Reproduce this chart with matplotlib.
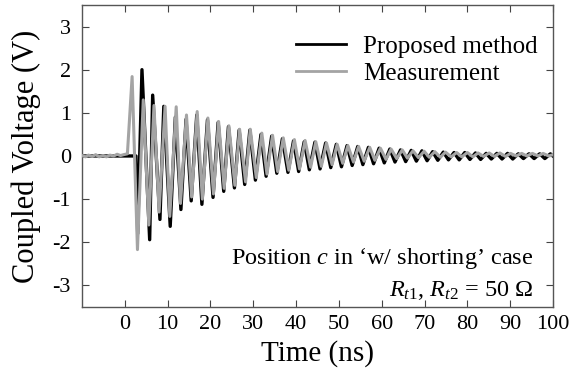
import matplotlib
matplotlib.use("Agg")
import matplotlib.pyplot as plt

# Lecturas de la figura: extremos de cada oscilacion (tiempo en ns, tension en V)
black_t = [-10, 2.6, 3.0, 4.0, 5.8, 6.5, 8.2, 9.1, 10.6, 11.8, 13.1, 14.3, 15.5, 16.8,
           18.0, 19.3, 20.6, 21.8, 23.1, 24.2, 25.6, 26.7, 28.0, 29.2, 30.5, 31.8,
           33.0, 34.3, 35.5, 36.8, 38.1, 39.4, 40.6, 41.9, 43.1, 44.4, 45.6, 46.9,
           48.1, 49.4, 50.6, 51.9, 53.1, 54.4, 55.6, 56.9, 58.1, 59.4, 60.6, 61.9,
           63.1, 64.4, 65.6, 66.9, 68.1, 69.4, 70.6, 71.9, 73.1, 74.4, 75.6, 76.9,
           78.1, 79.4, 80.6, 81.9, 83.1, 84.4, 85.6, 86.9, 88.1, 89.4, 90.6, 91.9,
           93.1, 94.4, 95.6, 96.9, 98.1, 99.4, 100]
black_v = [0, 0, -1.8, 2.0, -1.94, 1.41, -1.47, 1.15, -1.63, 0.9, -1.24, 0.85, -1.04, 0.95,
           -1.12, 0.84, -0.96, 0.78, -0.82, 0.68, -0.74, 0.6, -0.66, 0.6, -0.56, 0.5,
           -0.47, 0.46, -0.40, 0.40, -0.38, 0.35, -0.36, 0.33, -0.32, 0.32, -0.30, 0.30,
           -0.27, 0.27, -0.25, 0.24, -0.22, 0.22, -0.20, 0.20, -0.18, 0.18, -0.16, 0.16,
           -0.14, 0.14, -0.13, 0.13, -0.12, 0.12, -0.11, 0.10, -0.10, 0.09, -0.09, 0.08,
           -0.09, 0.08, -0.08, 0.07, -0.08, 0.06, -0.07, 0.06, -0.07, 0.06, -0.07, 0.05,
           -0.06, 0.05, -0.06, 0.05, -0.06, 0.05, 0]

gray_t = [-10, -9.2, -8.5, -7.6, -6.8, -6.0, -5.1, -4.3, -3.5, -2.6, -1.8, -1.0, -0.3,
          0.6, 1.7, 2.95, 4.3, 5.6, 6.8, 8.0, 9.4, 10.5, 12.0, 13.0, 14.4, 15.6, 16.9,
          18.1, 19.4, 20.7, 21.9, 23.2, 24.3, 25.7, 26.8, 28.2, 29.3, 30.7, 32.0, 33.2,
          34.5, 35.7, 37.0, 38.3, 39.6, 40.8, 42.1, 43.4, 44.6, 45.9, 47.1, 48.4, 49.6,
          50.9, 52.1, 53.4, 54.6, 55.9, 57.2, 58.4, 59.7, 61.0, 62.2, 63.5, 64.8, 66.0,
          67.3, 68.6, 69.9, 71.1, 72.4, 73.7, 74.9, 76.2, 77.5, 78.7, 80.0, 81.3, 82.5,
          83.8, 85.1, 86.3, 87.6, 88.9, 90.1, 91.4, 92.7, 93.9, 95.2, 96.5, 97.7, 99.0, 100]
gray_v = [0.01, -0.02, 0.02, -0.01, 0.03, -0.02, 0.01, -0.02, 0.02, 0.0, 0.04, 0.01, 0.03,
          0.05, 1.84, -2.17, 1.3, -1.6, 1.17, -1.3, 1.15, -1.4, 1.14, -1.1, 0.95, -0.95, 1.03,
          -1.0, 0.88, -0.88, 0.8, -0.75, 0.7, -0.68, 0.62, -0.6, 0.62, -0.5, 0.53, -0.42,
          0.48, -0.36, 0.42, -0.33, 0.38, -0.3, 0.36, -0.26, 0.33, -0.24, 0.3, -0.2, 0.27,
          -0.17, 0.24, -0.14, 0.22, -0.12, 0.2, -0.1, 0.18, -0.08, 0.16, -0.06, 0.14, -0.05,
          0.12, -0.04, 0.11, -0.03, 0.1, -0.03, 0.09, -0.02, 0.08, -0.02, 0.08, -0.02, 0.07,
          -0.01, 0.07, -0.01, 0.07, -0.01, 0.06, 0.0, 0.06, 0.0, 0.06, 0.0, 0.06, 0.0, 0.03]

x_ticks = [0, 10, 20, 30, 40, 50, 60, 70, 80, 90, 100]
y_ticks = [-3, -2, -1, 0, 1, 2, 3]

plt.rcParams['font.family'] = ['Liberation Serif', 'DejaVu Serif']
plt.rcParams['mathtext.fontset'] = 'custom'
plt.rcParams['mathtext.rm'] = 'Liberation Serif'
plt.rcParams['mathtext.it'] = 'Liberation Serif:italic'
plt.rcParams['axes.unicode_minus'] = False

fig = plt.figure(figsize=(5.76, 3.72), dpi=100)
ax = fig.add_axes([0.1424, 0.1747, 0.8176, 0.812])

ax.plot(black_t, black_v, color='black', lw=2.4, label='Proposed method', zorder=2)
ax.plot(gray_t, gray_v, color='#a4a4a4', lw=2.2, label='Measurement', zorder=3)

ax.set_xlim(-10, 100)
ax.set_ylim(-3.5, 3.5)
ax.set_xticks(x_ticks)
ax.set_yticks(y_ticks)
ax.tick_params(direction='in', top=True, right=True, length=5, width=0.8,
               labelsize=16, colors='#444444', labelcolor='black')
ax.tick_params(axis='x', pad=6)
ax.tick_params(axis='y', pad=8)
for s in ax.spines.values():
    s.set_color('#555555')
    s.set_linewidth(1.0)

ax.set_xlabel('Time (ns)', fontsize=21, labelpad=4)
ax.set_ylabel('Coupled Voltage (V)', fontsize=22, labelpad=8)

leg = ax.legend(loc='upper right', bbox_to_anchor=(0.968, 0.90), frameon=False,
                fontsize=18, handlelength=2.0, handletextpad=0.7, labelspacing=0.2,
                borderpad=0, borderaxespad=0)
for l in leg.get_lines():
    l.set_linewidth(2.0)

ax.text(0.9575, 0.162, 'Position $c$ in \u2018w/ shorting\u2019 case', transform=ax.transAxes,
        ha='right', va='center', fontsize=17.5)
ax.text(0.9575, 0.056, r'$R_{\mathit{t1}}$, $R_{\mathit{t2}}$ = 50 $\Omega$', transform=ax.transAxes,
        ha='right', va='center', fontsize=17.5)

plt.savefig('out.png', dpi=100)
